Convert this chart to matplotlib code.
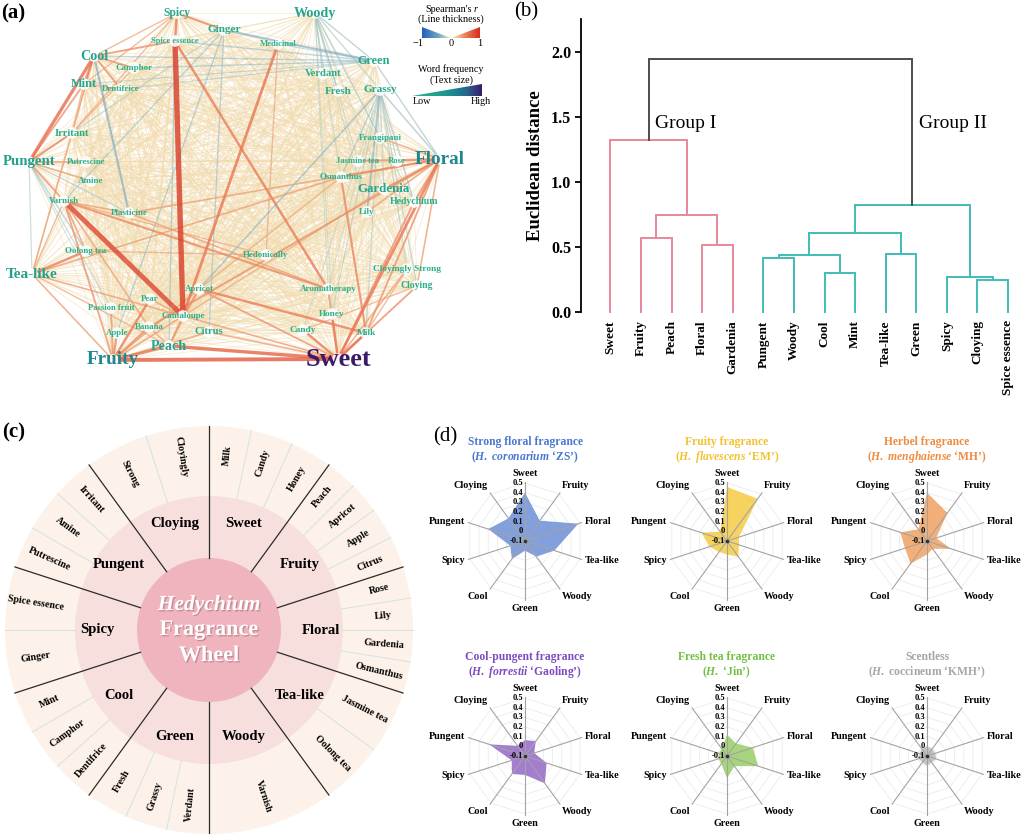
import itertools
import numpy as np
import matplotlib
matplotlib.use("Agg")
import matplotlib.pyplot as plt
from matplotlib.colors import LinearSegmentedColormap
from matplotlib.collections import LineCollection
from matplotlib.patches import Circle, Polygon
import matplotlib.patheffects as pe

plt.rcParams['font.family'] = ['Liberation Serif', 'DejaVu Serif']
plt.rcParams['mathtext.fontset'] = 'custom'
plt.rcParams['mathtext.rm'] = 'Liberation Serif:bold'
plt.rcParams['mathtext.it'] = 'Liberation Serif:italic:bold'
plt.rcParams['mathtext.bf'] = 'Liberation Serif:bold'

# ====================== DATA ======================
# (a) word network: words, word frequency, Spearman correlations
words = ['Sweet', 'Fruity', 'Floral', 'Tea-like', 'Pungent', 'Woody', 'Cool', 'Peach',
         'Gardenia', 'Green', 'Mint', 'Spicy', 'Ginger', 'Grassy', 'Fresh', 'Verdant',
         'Citrus', 'Irritant', 'Cloying', 'Hedychium', 'Cloyingly Strong', 'Medicinal',
         'Camphor', 'Dentifrice', 'Frangipani', 'Putrescine', 'Jasmine tea', 'Rose',
         'Osmanthus', 'Amine', 'Varnish', 'Plasticine', 'Lily', 'Oolong tea', 'Hedonically',
         'Apricot', 'Aromatherapy', 'Pear', 'Passion fruit', 'Cantaloupe', 'Honey',
         'Banana', 'Apple', 'Candy', 'Milk', 'Spice essence']
word_freq = [100, 60, 60, 38, 36, 32, 32, 32,
             26, 22, 22, 18, 16, 16, 15, 13,
             13, 13, 8, 8, 6, 2,
             4, 3, 4, 2, 2, 2,
             3, 4, 4, 4, 4, 3, 3,
             3, 4, 3, 2, 3, 5,
             3, 3, 6, 6, 1]

correlations = [
    ('Spice essence', 'Cantaloupe', 0.92), ('Varnish', 'Cantaloupe', 0.85),
    ('Fruity', 'Sweet', 0.72), ('Peach', 'Sweet', 0.65), ('Pungent', 'Cool', 0.62),
    ('Floral', 'Sweet', 0.55), ('Medicinal', 'Cantaloupe', 0.55),
    ('Spice essence', 'Aromatherapy', 0.5), ('Apricot', 'Milk', 0.5),
    ('Osmanthus', 'Milk', 0.45), ('Varnish', 'Aromatherapy', 0.45),
    ('Banana', 'Floral', 0.42), ('Hedychium', 'Sweet', 0.42), ('Tea-like', 'Osmanthus', 0.35),
    ('Pungent', 'Irritant', 0.45), ('Pungent', 'Mint', 0.4), ('Pungent', 'Varnish', 0.4),
    ('Pungent', 'Amine', 0.35), ('Pungent', 'Putrescine', 0.35),
    ('Cool', 'Mint', 0.5), ('Cool', 'Camphor', 0.4), ('Cool', 'Dentifrice', 0.4),
    ('Cool', 'Spice essence', 0.4), ('Spicy', 'Spice essence', 0.5), ('Spicy', 'Ginger', 0.45),
    ('Spicy', 'Cool', 0.3), ('Spicy', 'Irritant', 0.3), ('Spicy', 'Mint', 0.3),
    ('Fruity', 'Peach', 0.55), ('Fruity', 'Pear', 0.5), ('Fruity', 'Apple', 0.45),
    ('Fruity', 'Banana', 0.45), ('Fruity', 'Passion fruit', 0.4), ('Fruity', 'Varnish', 0.4),
    ('Fruity', 'Citrus', 0.35), ('Fruity', 'Cantaloupe', 0.35), ('Fruity', 'Apricot', 0.35),
    ('Tea-like', 'Oolong tea', 0.5), ('Tea-like', 'Cantaloupe', 0.35), ('Tea-like', 'Fruity', 0.35),
    ('Tea-like', 'Irritant', 0.3), ('Tea-like', 'Varnish', 0.3), ('Tea-like', 'Peach', 0.3),
    ('Sweet', 'Honey', 0.5), ('Sweet', 'Candy', 0.5), ('Sweet', 'Milk', 0.55),
    ('Sweet', 'Aromatherapy', 0.4), ('Sweet', 'Cloying', 0.4), ('Sweet', 'Cloyingly Strong', 0.35),
    ('Sweet', 'Apricot', 0.4), ('Sweet', 'Cantaloupe', 0.35), ('Sweet', 'Citrus', 0.35),
    ('Floral', 'Gardenia', 0.45), ('Floral', 'Rose', 0.4), ('Floral', 'Jasmine tea', 0.4),
    ('Floral', 'Frangipani', 0.35), ('Floral', 'Hedychium', 0.45), ('Floral', 'Lily', 0.35),
    ('Floral', 'Osmanthus', 0.45), ('Floral', 'Milk', 0.4), ('Floral', 'Cloying', 0.35),
    ('Floral', 'Plasticine', 0.35), ('Peach', 'Cantaloupe', 0.4), ('Peach', 'Banana', 0.35),
    ('Peach', 'Apricot', 0.35), ('Apricot', 'Cantaloupe', 0.4), ('Pear', 'Cantaloupe', 0.35),
    ('Varnish', 'Oolong tea', 0.35), ('Varnish', 'Plasticine', 0.35), ('Varnish', 'Banana', 0.35),
    ('Plasticine', 'Aromatherapy', 0.35), ('Hedonically', 'Varnish', 0.3),
    ('Oolong tea', 'Hedonically', 0.3), ('Gardenia', 'Cantaloupe', 0.3),
    ('Osmanthus', 'Apricot', 0.3), ('Medicinal', 'Hedonically', 0.3), ('Camphor', 'Irritant', 0.3),
    ('Mint', 'Irritant', 0.3), ('Mint', 'Dentifrice', 0.3), ('Cool', 'Tea-like', 0.3),
    ('Cool', 'Irritant', 0.3), ('Cloying', 'Candy', 0.3), ('Cloyingly Strong', 'Milk', 0.3),
    ('Ginger', 'Green', -0.45), ('Woody', 'Green', -0.3), ('Woody', 'Verdant', -0.3),
    ('Woody', 'Fresh', -0.3), ('Woody', 'Grassy', -0.25), ('Woody', 'Frangipani', -0.25),
    ('Woody', 'Jasmine tea', -0.2), ('Woody', 'Osmanthus', -0.2), ('Woody', 'Lily', -0.2),
    ('Woody', 'Hedychium', -0.2), ('Woody', 'Aromatherapy', -0.2), ('Woody', 'Honey', -0.2),
    ('Woody', 'Gardenia', -0.2), ('Grassy', 'Floral', -0.3), ('Grassy', 'Lily', -0.4),
    ('Grassy', 'Hedychium', -0.3), ('Grassy', 'Cloyingly Strong', -0.25), ('Grassy', 'Cloying', -0.25),
    ('Grassy', 'Milk', -0.25), ('Grassy', 'Honey', -0.25), ('Grassy', 'Gardenia', -0.25),
    ('Grassy', 'Rose', -0.25), ('Grassy', 'Osmanthus', -0.3), ('Grassy', 'Candy', -0.2),
    ('Grassy', 'Aromatherapy', -0.2), ('Grassy', 'Apricot', -0.35),
    ('Green', 'Spice essence', -0.3), ('Green', 'Medicinal', -0.25), ('Green', 'Camphor', -0.3),
    ('Green', 'Cool', -0.3), ('Green', 'Dentifrice', -0.25), ('Green', 'Floral', -0.3),
    ('Green', 'Mint', -0.25), ('Pungent', 'Tea-like', -0.25), ('Pungent', 'Oolong tea', -0.3),
    ('Pungent', 'Plasticine', -0.25), ('Pungent', 'Apple', -0.2), ('Pungent', 'Passion fruit', -0.25),
    ('Cool', 'Plasticine', -0.45), ('Ginger', 'Varnish', -0.3), ('Ginger', 'Pungent', -0.25),
    ('Ginger', 'Apple', -0.3), ('Ginger', 'Citrus', -0.3), ('Spice essence', 'Peach', -0.3),
]
weak_r = 0.1   # remaining word pairs: weak correlation

# (b) dendrogram
leaf_labels = ['Sweet', 'Fruity', 'Peach', 'Floral', 'Gardenia', 'Pungent', 'Woody',
               'Cool', 'Mint', 'Tea-like', 'Green', 'Spicy', 'Cloying', 'Spice essence']
merge_left = [1, 3, 14, 0, 5, 7, 18, 9, 20, 12, 11, 22, 17]
merge_right = [2, 4, 15, 16, 6, 8, 19, 10, 21, 13, 23, 24, 25]
merge_height = [0.572, 0.513, 0.749, 1.32, 0.418, 0.30, 0.441, 0.444, 0.608, 0.244, 0.269, 0.82, 1.95]
merge_group = ['I', 'I', 'I', 'I', 'II', 'II', 'II', 'II', 'II', 'II', 'II', 'II', 'top']

# (c) fragrance wheel
wheel_categories = ['Sweet', 'Fruity', 'Floral', 'Tea-like', 'Woody', 'Green', 'Cool',
                    'Spicy', 'Pungent', 'Cloying']
wheel_terms = [['Milk', 'Candy', 'Honey'], ['Peach', 'Apricot', 'Apple', 'Citrus'],
               ['Rose', 'Lily', 'Gardenia', 'Osmanthus'], ['Jasmine tea', 'Oolong tea'],
               ['Varnish'], ['Verdant', 'Grassy', 'Fresh'], ['Dentifrice', 'Camphor', 'Mint'],
               ['Ginger', 'Spice essence'], ['Putrescine', 'Amine', 'Irritant'],
               ['Strong', 'Cloyingly']]

# (d) radar charts
radar_attributes = ['Sweet', 'Fruity', 'Floral', 'Tea-like', 'Woody', 'Green', 'Cool',
                    'Spicy', 'Pungent', 'Cloying']
radar_titles = ['Strong floral fragrance', 'Fruity fragrance', 'Herbel fragrance',
                'Cool-pungent fragrance', 'Fresh tea fragrance', 'Scentless']
radar_species = ['($\\mathit{H.\\ coronarium}$ \u2018ZS\u2019)',
                 '($\\mathit{H.\\ flavescens}$ \u2018EM\u2019)',
                 '($\\mathit{H.\\ menghaiense}$ \u2018MH\u2019)',
                 '($\\mathit{H.\\ forrestii}$ \u2018Gaoling\u2019)',
                 '($\\mathit{H.}$ \u2018Jin\u2019)',
                 '($\\mathit{H.}$ coccineum \u2018KMH\u2019)']
radar_values = [
    [0.40, 0.16, 0.48, 0.22, 0.10, 0.00, 0.13, 0.06, 0.30, 0.19],
    [0.46, 0.44, 0.03, 0.03, 0.10, 0.04, 0.04, 0.09, 0.18, 0.02],
    [0.40, 0.26, 0.00, 0.16, 0.00, 0.04, 0.19, 0.14, 0.19, 0.05],
    [0.065, 0.09, 0.00, 0.135, 0.25, 0.095, 0.13, 0.045, 0.29, 0.03],
    [0.12, 0.06, 0.18, 0.24, 0.03, 0.13, 0.00, -0.01, -0.01, -0.01],
    [0.00, -0.01, -0.01, 0.00, -0.02, 0.00, -0.02, -0.01, -0.02, -0.01],
]
radar_ticks = [0.5, 0.4, 0.3, 0.2, 0.1, 0, -0.1]

# ====================== LAYOUT / STYLE ======================
W, H = 1024, 834
fig = plt.figure(figsize=(W / 100, H / 100), dpi=100)
fig.patch.set_facecolor('white')

node_xy = {
    'Spicy': (177, 13), 'Woody': (315, 13), 'Ginger': (224, 30), 'Spice essence': (175, 41),
    'Medicinal': (278, 44), 'Cool': (94, 56), 'Camphor': (134, 68), 'Green': (374, 61),
    'Verdant': (323, 74), 'Mint': (84, 84), 'Dentifrice': (121, 89), 'Fresh': (338, 91),
    'Grassy': (380, 90), 'Irritant': (72, 133), 'Frangipani': (380, 138), 'Pungent': (29, 162),
    'Putrescine': (86, 162), 'Jasmine tea': (358, 161), 'Rose': (397, 161), 'Floral': (440, 159),
    'Osmanthus': (341, 177), 'Amine': (91, 181), 'Gardenia': (384, 189), 'Varnish': (64, 201),
    'Hedychium': (414, 202), 'Plasticine': (129, 213), 'Lily': (367, 212), 'Oolong tea': (86, 251),
    'Hedonically': (266, 255), 'Cloyingly Strong': (407, 269), 'Tea-like': (32, 274),
    'Cloying': (417, 286), 'Apricot': (199, 289), 'Aromatherapy': (328, 289), 'Pear': (150, 299),
    'Passion fruit': (111, 308), 'Cantaloupe': (183, 316), 'Honey': (332, 314), 'Banana': (149, 327),
    'Apple': (117, 333), 'Citrus': (209, 332), 'Candy': (303, 330), 'Milk': (366, 333),
    'Peach': (169, 346), 'Fruity': (113, 360), 'Sweet': (338, 359),
}

edge_cmap = LinearSegmentedColormap.from_list('spearman', [
    (0.0, '#1f5fc0'), (0.3, '#7aa9c2'), (0.45, '#d5e3c4'), (0.5, '#f1f0c8'),
    (0.58, '#f2cf9e'), (0.75, '#eb7e58'), (1.0, '#d62f1f')])
freq_cmap = LinearSegmentedColormap.from_list('freq', [
    (0.0, '#2bb38a'), (0.35, '#22a28c'), (0.6, '#1f8791'), (0.8, '#28618e'), (1.0, '#3b1a6a')])

# ---------------- (a) ----------------
ax_a = fig.add_axes([0, 1 - 400 / H, 512 / W, 400 / H])
ax_a.set_xlim(0, 512)
ax_a.set_ylim(400, 0)
ax_a.axis('off')

explicit = {frozenset((a, b)): r for a, b, r in correlations}
bg_segs = []
for a, b in itertools.combinations(words, 2):
    if frozenset((a, b)) in explicit:
        continue
    bg_segs.append([node_xy[a], node_xy[b]])
ax_a.add_collection(LineCollection(bg_segs, colors=[edge_cmap((weak_r + 1) / 2)],
                                   linewidths=0.55, alpha=0.6, zorder=1))
ordered = sorted(correlations, key=lambda t: abs(t[2]))
segs = [[node_xy[a], node_xy[b]] for a, b, r in ordered]
cols = [(*edge_cmap((r + 1) / 2)[:3], 0.8 if r > 0 else 0.6) for a, b, r in ordered]
lws = [0.35 + 4.0 * abs(r) ** 1.5 for a, b, r in ordered]
ax_a.add_collection(LineCollection(segs, colors=cols, linewidths=lws, zorder=2))

xs = [node_xy[w][0] for w in words]
ys = [node_xy[w][1] for w in words]
ax_a.scatter(xs, ys, s=70, c='white', edgecolors='none', alpha=0.9, zorder=3)
for w, f in zip(words, word_freq):
    ax_a.text(node_xy[w][0], node_xy[w][1], w, ha='center', va='center',
              fontsize=6 + 0.13 * f, fontweight='bold', color=freq_cmap(f / 100), zorder=4)

# legend: Spearman's r
ax_a.text(472, 9, "Spearman's", ha='right', va='center', fontsize=7.3)
ax_a.text(474, 9, "r", ha='left', va='center', fontsize=7.3, style='italic')
ax_a.text(451, 19, "(Line thickness)", ha='center', va='center', fontsize=7.3)
grad = np.linspace(-1, 1, 256).reshape(1, -1)
im1 = ax_a.imshow(grad, cmap=edge_cmap, vmin=-1, vmax=1, extent=[422, 480, 38, 27],
                  aspect='auto', zorder=5)
im1.set_clip_path(Polygon([(422, 27), (451, 38), (480, 27), (480, 38), (422, 38)],
                          closed=True, transform=ax_a.transData))
for v, x in zip(['\u22121', '0', '1'], [418, 451, 480]):
    ax_a.text(x, 44, v, ha='center', va='center', fontsize=7.5)
ax_a.text(451, 69, "Word frequency", ha='center', va='center', fontsize=7.3)
ax_a.text(451, 80, "(Text size)", ha='center', va='center', fontsize=7.3)
grad2 = np.linspace(0, 1, 256).reshape(1, -1)
im2 = ax_a.imshow(grad2, cmap=freq_cmap, vmin=0, vmax=1, extent=[412, 482, 96, 84],
                  aspect='auto', zorder=5)
im2.set_clip_path(Polygon([(412, 96), (482, 84), (482, 96)], closed=True,
                          transform=ax_a.transData))
ax_a.text(422, 102, "Low", ha='center', va='center', fontsize=7.3)
ax_a.text(481, 102, "High", ha='center', va='center', fontsize=7.3)
ax_a.set_xlim(0, 512)
ax_a.set_ylim(400, 0)

# ---------------- (b) ----------------
ax_b = fig.add_axes([581 / W, 1 - 312 / H, (1020 - 581) / W, (312 - 19) / H])
n = len(leaf_labels)
pos = {i: (float(i), 0.0) for i in range(n)}
group_col = {'I': '#e8899b', 'II': '#3fbdb4', 'top': '#4d4d4d'}
for k, (c1, c2, h, g) in enumerate(zip(merge_left, merge_right, merge_height, merge_group)):
    x1, y1 = pos[c1]
    x2, y2 = pos[c2]
    ax_b.plot([x1, x1, x2, x2], [y1, h, h, y2], color=group_col[g], lw=1.4,
              clip_on=False, solid_joinstyle='miter')
    pos[n + k] = ((x1 + x2) / 2, h)
ax_b.set_xlim(-0.96, 13.39)
ax_b.set_ylim(0, 2.254)
for s in ['top', 'right', 'bottom']:
    ax_b.spines[s].set_visible(False)
ax_b.spines['left'].set_linewidth(1.3)
ax_b.set_yticks([0, 0.5, 1.0, 1.5, 2.0])
ax_b.set_yticklabels(['0.0', '0.5', '1.0', '1.5', '2.0'], fontsize=11.5, fontweight='bold')
ax_b.tick_params(axis='y', length=4, width=1.3, pad=3)
ax_b.set_xticks(range(n))
ax_b.set_xticklabels(leaf_labels, rotation=90, fontsize=9.5, fontweight='bold')
ax_b.tick_params(axis='x', length=0, pad=6)
ax_b.set_ylabel('Euclidean distance', fontsize=13.5, fontweight='bold')
ax_b.yaxis.set_label_coords(-0.085, 0.5)
ax_b.text(1.46, 1.45, 'Group I', ha='left', va='center', fontsize=14)
ax_b.text(10.09, 1.45, 'Group II', ha='left', va='center', fontsize=14)

# ---------------- (c) ----------------
ax_c = fig.add_axes([0, 0, 420 / W, 434 / H])
ax_c.set_xlim(0, 420)
ax_c.set_ylim(0, 434)
ax_c.axis('off')
cx, cy = 209, 204
R_in, R_mid, R_out = 72, 134, 204
ax_c.add_patch(Circle((cx, cy), R_out, fc='#fcf2e9', ec='none'))
ax_c.add_patch(Circle((cx, cy), R_mid, fc='#f6dfdd', ec='none'))
ax_c.add_patch(Circle((cx, cy), R_in, fc='#efb4bd', ec='none'))


def wpt(r, a):
    phi = np.deg2rad(90 - a)
    return cx + r * np.cos(phi), cy + r * np.sin(phi)


seg = 360 / len(wheel_categories)
for i, cat in enumerate(wheel_categories):
    a0 = i * seg
    terms = wheel_terms[i]
    sub = seg / len(terms)
    for j, t in enumerate(terms):
        if j > 0:
            (xa, ya), (xb, yb) = wpt(R_mid, a0 + j * sub), wpt(R_out, a0 + j * sub)
            ax_c.plot([xa, xb], [ya, yb], color='#d3e2e2', lw=0.7, zorder=2)
        at = a0 + (j + 0.5) * sub
        phi = (90 - at + 180) % 360 - 180
        rot = phi
        if phi > 90:
            rot = phi - 180
        elif phi < -90:
            rot = phi + 180
        tx, ty = wpt(175, at)
        ax_c.text(tx, ty, t, rotation=rot, rotation_mode='anchor', ha='center', va='center',
                  fontsize=7.2, fontweight='bold', zorder=4)
    (xa, ya), (xb, yb) = wpt(R_in, a0), wpt(R_out, a0)
    ax_c.plot([xa, xb], [ya, yb], color='#2b2b2b', lw=0.9, zorder=3)
    mx, my = wpt(112, a0 + seg / 2)
    ax_c.text(mx, my, cat, ha='center', va='center', fontsize=10.5, fontweight='bold', zorder=4)

shadow = [pe.withSimplePatchShadow(offset=(1.0, -1.0), shadow_rgbFace='#9a5a66', alpha=0.45)]
ax_c.text(cx, cy + 25, 'Hedychium', ha='center', va='center', fontsize=15.5, fontweight='bold',
          style='italic', color='white', path_effects=shadow, zorder=5)
ax_c.text(cx, cy, 'Fragrance', ha='center', va='center', fontsize=16, fontweight='bold',
          color='white', path_effects=shadow, zorder=5)
ax_c.text(cx, cy - 26, 'Wheel', ha='center', va='center', fontsize=16, fontweight='bold',
          color='white', path_effects=shadow, zorder=5)

# ---------------- (d) ----------------
radar_centers = [(525, 541), (727, 541), (927, 541), (525, 756), (727, 756), (927, 756)]
title_colors = ['#4a78d0', '#f2c232', '#f08c42', '#7d4cc0', '#74c043', '#a6a6a6']
fill_colors = ['#7596d8', '#f5cf4d', '#f1a76a', '#9b6fcb', '#9fd06e', '#bdbdbd']
R = 58
nat = len(radar_attributes)
theta = np.linspace(0, 2 * np.pi, nat, endpoint=False)
theta_c = np.append(theta, theta[0])
for k, (ccx, ccy) in enumerate(radar_centers):
    ax = fig.add_axes([(ccx - R) / W, 1 - (ccy + R) / H, 2 * R / W, 2 * R / H],
                      projection='polar')
    ax.set_theta_zero_location('N')
    ax.set_theta_direction(-1)
    ax.set_ylim(-0.1, 0.5)
    ax.axis('off')
    for rr in [0, 0.1, 0.2, 0.3, 0.4, 0.5]:
        ax.plot(theta_c, [rr] * (nat + 1), color='#ebebeb', lw=0.6, zorder=1)
    vals = list(radar_values[k]) + [radar_values[k][0]]
    ax.fill(theta_c, vals, color=fill_colors[k], alpha=0.9, lw=0, zorder=2)
    for th in theta:
        ax.plot([th, th], [-0.1, 0.515], color='#a3a3a3', lw=0.8, zorder=3, clip_on=False)
    ax.plot([0], [-0.1], 'o', ms=1.6, color='#333333', zorder=4)
    for th, lab in zip(theta, radar_attributes):
        s, c = np.sin(th), np.cos(th)
        ha = 'left' if s > 0.1 else ('right' if s < -0.1 else 'center')
        va = 'bottom' if c > 0.5 else ('top' if c < -0.5 else 'center')
        ax.text(th, 0.55, lab, ha=ha, va=va, fontsize=7.3, fontweight='bold', clip_on=False)
    for tv in radar_ticks:
        ax.annotate(f'{tv:g}', xy=(0, tv), xytext=(-1.2, 0), textcoords='offset points',
                    ha='right', va='center', fontsize=6, fontweight='bold',
                    annotation_clip=False)
    ty1 = ccy - 99
    fig.text(ccx / W, 1 - ty1 / H, radar_titles[k], ha='center', va='center',
             fontsize=8.4, fontweight='bold', color=title_colors[k])
    fig.text(ccx / W, 1 - (ty1 + 15) / H, radar_species[k], ha='center', va='center',
             fontsize=8.4, fontweight='bold', color=title_colors[k])

# panel letters
fig.text(13 / W, 1 - 13 / H, '(a)', ha='center', va='center', fontsize=15, fontweight='bold')
fig.text(526 / W, 1 - 12 / H, '(b)', ha='center', va='center', fontsize=15)
fig.text(14 / W, 1 - 432 / H, '(c)', ha='center', va='center', fontsize=15, fontweight='bold')
fig.text(445 / W, 1 - 437 / H, '(d)', ha='center', va='center', fontsize=15)

fig.savefig('out.png', dpi=100)
